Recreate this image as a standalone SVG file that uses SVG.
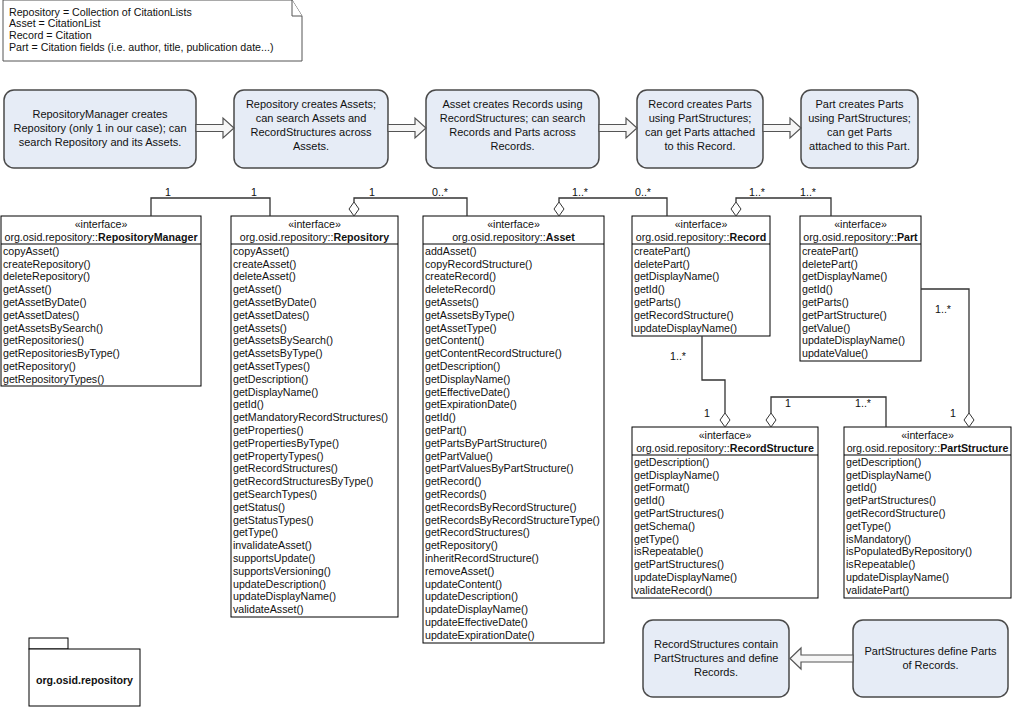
<svg xmlns="http://www.w3.org/2000/svg" width="1014" height="707" viewBox="0 0 1014 707">
<style>
text{font-family:"Liberation Sans",Arial,sans-serif;fill:#111}
.pbox{fill:#E6ECF6;stroke:#4a4a4a;stroke-width:1.5}
.pt{font-size:11px;text-anchor:middle}
.cbox{fill:#fff;stroke:#000;stroke-width:1}
.sep{stroke:#000;stroke-width:1}
.hd{font-size:10.67px;text-anchor:middle}
.ct{font-size:10.67px}
.lbl{font-size:10.67px;text-anchor:middle}
.conn{fill:none;stroke:#333;stroke-width:1.3}
.dia{fill:#fff;stroke:#333;stroke-width:1}
.barrow{fill:#f6f6f6;stroke:#555;stroke-width:1.2}
.note{fill:#fff;stroke:#555;stroke-width:1}
</style>
<rect width="1014" height="707" fill="#fff"/>

<g id="legend-note">
<path class="note" d="M3,0 H292 L302,16 V61 H3 Z"/>
<path class="note" fill="none" d="M292,0 V16 H302"/>
<text class="ct"><tspan x="9" y="15.5">Repository = Collection of CitationLists</tspan><tspan x="9" y="27.2">Asset = CitationList</tspan><tspan x="9" y="38.9">Record = Citation</tspan><tspan x="9" y="50.6">Part = Citation fields (i.e. author, title, publication date...)</tspan></text>
</g>

<g id="step-repositorymanager">
<rect class="pbox" x="4" y="90" width="192" height="78" rx="10"/>
<text class="pt"><tspan x="100" y="118">RepositoryManager creates</tspan><tspan x="100" y="132">Repository (only 1 in our case); can</tspan><tspan x="100" y="146">search Repository and its Assets.</tspan></text>
</g>
<g id="step-repository">
<rect class="pbox" x="234" y="90" width="154" height="78" rx="10"/>
<text class="pt"><tspan x="311" y="108">Repository creates Assets;</tspan><tspan x="311" y="122">can search Assets and</tspan><tspan x="311" y="136">RecordStructures across</tspan><tspan x="311" y="150">Assets.</tspan></text>
</g>
<g id="step-asset">
<rect class="pbox" x="426" y="90" width="173" height="78" rx="10"/>
<text class="pt"><tspan x="512.5" y="108">Asset creates Records using</tspan><tspan x="512.5" y="122">RecordStructures; can search</tspan><tspan x="512.5" y="136">Records and Parts across</tspan><tspan x="512.5" y="150">Records.</tspan></text>
</g>
<g id="step-record">
<rect class="pbox" x="637" y="90" width="126" height="78" rx="10"/>
<text class="pt"><tspan x="700" y="108">Record creates Parts</tspan><tspan x="700" y="122">using PartStructures;</tspan><tspan x="700" y="136">can get Parts attached</tspan><tspan x="700" y="150">to this Record.</tspan></text>
</g>
<g id="step-part">
<rect class="pbox" x="801" y="90" width="117" height="78" rx="10"/>
<text class="pt"><tspan x="859.5" y="108">Part creates Parts</tspan><tspan x="859.5" y="122">using PartStructures;</tspan><tspan x="859.5" y="136">can get Parts</tspan><tspan x="859.5" y="150">attached to this Part.</tspan></text>
</g>

<g id="class-repositorymanager">
<rect class="cbox" x="1" y="216" width="200" height="170"/>
<line class="sep" x1="1" y1="244" x2="201" y2="244"/>
<text class="hd" x="101" y="228.3">«interface»</text>
<text class="hd" x="101" y="241.3">org.osid.repository::<tspan font-weight="bold">RepositoryManager</tspan></text>
<text class="ct"><tspan x="3" y="254.8">copyAsset()</tspan><tspan x="3" dy="12.8">createRepository()</tspan><tspan x="3" dy="12.8">deleteRepository()</tspan><tspan x="3" dy="12.8">getAsset()</tspan><tspan x="3" dy="12.8">getAssetByDate()</tspan><tspan x="3" dy="12.8">getAssetDates()</tspan><tspan x="3" dy="12.8">getAssetsBySearch()</tspan><tspan x="3" dy="12.8">getRepositories()</tspan><tspan x="3" dy="12.8">getRepositoriesByType()</tspan><tspan x="3" dy="12.8">getRepository()</tspan><tspan x="3" dy="12.8">getRepositoryTypes()</tspan></text>
</g>

<g id="class-repository">
<rect class="cbox" x="231" y="216" width="167" height="401"/>
<line class="sep" x1="231" y1="244" x2="398" y2="244"/>
<text class="hd" x="314.5" y="228.3">«interface»</text>
<text class="hd" x="314.5" y="241.3">org.osid.repository::<tspan font-weight="bold">Repository</tspan></text>
<text class="ct"><tspan x="233" y="254.8">copyAsset()</tspan><tspan x="233" dy="12.8">createAsset()</tspan><tspan x="233" dy="12.8">deleteAsset()</tspan><tspan x="233" dy="12.8">getAsset()</tspan><tspan x="233" dy="12.8">getAssetByDate()</tspan><tspan x="233" dy="12.8">getAssetDates()</tspan><tspan x="233" dy="12.8">getAssets()</tspan><tspan x="233" dy="12.8">getAssetsBySearch()</tspan><tspan x="233" dy="12.8">getAssetsByType()</tspan><tspan x="233" dy="12.8">getAssetTypes()</tspan><tspan x="233" dy="12.8">getDescription()</tspan><tspan x="233" dy="12.8">getDisplayName()</tspan><tspan x="233" dy="12.8">getId()</tspan><tspan x="233" dy="12.8">getMandatoryRecordStructures()</tspan><tspan x="233" dy="12.8">getProperties()</tspan><tspan x="233" dy="12.8">getPropertiesByType()</tspan><tspan x="233" dy="12.8">getPropertyTypes()</tspan><tspan x="233" dy="12.8">getRecordStructures()</tspan><tspan x="233" dy="12.8">getRecordStructuresByType()</tspan><tspan x="233" dy="12.8">getSearchTypes()</tspan><tspan x="233" dy="12.8">getStatus()</tspan><tspan x="233" dy="12.8">getStatusTypes()</tspan><tspan x="233" dy="12.8">getType()</tspan><tspan x="233" dy="12.8">invalidateAsset()</tspan><tspan x="233" dy="12.8">supportsUpdate()</tspan><tspan x="233" dy="12.8">supportsVersioning()</tspan><tspan x="233" dy="12.8">updateDescription()</tspan><tspan x="233" dy="12.8">updateDisplayName()</tspan><tspan x="233" dy="12.8">validateAsset()</tspan></text>
</g>

<g id="class-asset">
<rect class="cbox" x="423" y="216" width="181" height="427"/>
<line class="sep" x1="423" y1="244" x2="604" y2="244"/>
<text class="hd" x="513.5" y="228.3">«interface»</text>
<text class="hd" x="513.5" y="241.3">org.osid.repository::<tspan font-weight="bold">Asset</tspan></text>
<text class="ct"><tspan x="425" y="254.8">addAsset()</tspan><tspan x="425" dy="12.8">copyRecordStructure()</tspan><tspan x="425" dy="12.8">createRecord()</tspan><tspan x="425" dy="12.8">deleteRecord()</tspan><tspan x="425" dy="12.8">getAssets()</tspan><tspan x="425" dy="12.8">getAssetsByType()</tspan><tspan x="425" dy="12.8">getAssetType()</tspan><tspan x="425" dy="12.8">getContent()</tspan><tspan x="425" dy="12.8">getContentRecordStructure()</tspan><tspan x="425" dy="12.8">getDescription()</tspan><tspan x="425" dy="12.8">getDisplayName()</tspan><tspan x="425" dy="12.8">getEffectiveDate()</tspan><tspan x="425" dy="12.8">getExpirationDate()</tspan><tspan x="425" dy="12.8">getId()</tspan><tspan x="425" dy="12.8">getPart()</tspan><tspan x="425" dy="12.8">getPartsByPartStructure()</tspan><tspan x="425" dy="12.8">getPartValue()</tspan><tspan x="425" dy="12.8">getPartValuesByPartStructure()</tspan><tspan x="425" dy="12.8">getRecord()</tspan><tspan x="425" dy="12.8">getRecords()</tspan><tspan x="425" dy="12.8">getRecordsByRecordStructure()</tspan><tspan x="425" dy="12.8">getRecordsByRecordStructureType()</tspan><tspan x="425" dy="12.8">getRecordStructures()</tspan><tspan x="425" dy="12.8">getRepository()</tspan><tspan x="425" dy="12.8">inheritRecordStructure()</tspan><tspan x="425" dy="12.8">removeAsset()</tspan><tspan x="425" dy="12.8">updateContent()</tspan><tspan x="425" dy="12.8">updateDescription()</tspan><tspan x="425" dy="12.8">updateDisplayName()</tspan><tspan x="425" dy="12.8">updateEffectiveDate()</tspan><tspan x="425" dy="12.8">updateExpirationDate()</tspan></text>
</g>

<g id="class-record">
<rect class="cbox" x="632" y="216" width="138" height="120"/>
<line class="sep" x1="632" y1="244" x2="770" y2="244"/>
<text class="hd" x="701" y="228.3">«interface»</text>
<text class="hd" x="701" y="241.3">org.osid.repository::<tspan font-weight="bold">Record</tspan></text>
<text class="ct"><tspan x="634" y="254.8">createPart()</tspan><tspan x="634" dy="12.8">deletePart()</tspan><tspan x="634" dy="12.8">getDisplayName()</tspan><tspan x="634" dy="12.8">getId()</tspan><tspan x="634" dy="12.8">getParts()</tspan><tspan x="634" dy="12.8">getRecordStructure()</tspan><tspan x="634" dy="12.8">updateDisplayName()</tspan></text>
</g>

<g id="class-part">
<rect class="cbox" x="800" y="216" width="121" height="145"/>
<line class="sep" x1="800" y1="244" x2="921" y2="244"/>
<text class="hd" x="860.5" y="228.3">«interface»</text>
<text class="hd" x="860.5" y="241.3">org.osid.repository::<tspan font-weight="bold">Part</tspan></text>
<text class="ct"><tspan x="802" y="254.8">createPart()</tspan><tspan x="802" dy="12.8">deletePart()</tspan><tspan x="802" dy="12.8">getDisplayName()</tspan><tspan x="802" dy="12.8">getId()</tspan><tspan x="802" dy="12.8">getParts()</tspan><tspan x="802" dy="12.8">getPartStructure()</tspan><tspan x="802" dy="12.8">getValue()</tspan><tspan x="802" dy="12.8">updateDisplayName()</tspan><tspan x="802" dy="12.8">updateValue()</tspan></text>
</g>

<g id="class-recordstructure">
<rect class="cbox" x="632" y="427" width="186" height="171"/>
<line class="sep" x1="632" y1="455" x2="818" y2="455"/>
<text class="hd" x="725" y="439.3">«interface»</text>
<text class="hd" x="725" y="452.3">org.osid.repository::<tspan font-weight="bold">RecordStructure</tspan></text>
<text class="ct"><tspan x="634" y="465.8">getDescription()</tspan><tspan x="634" dy="12.8">getDisplayName()</tspan><tspan x="634" dy="12.8">getFormat()</tspan><tspan x="634" dy="12.8">getId()</tspan><tspan x="634" dy="12.8">getPartStructures()</tspan><tspan x="634" dy="12.8">getSchema()</tspan><tspan x="634" dy="12.8">getType()</tspan><tspan x="634" dy="12.8">isRepeatable()</tspan><tspan x="634" dy="12.8">getPartStructures()</tspan><tspan x="634" dy="12.8">updateDisplayName()</tspan><tspan x="634" dy="12.8">validateRecord()</tspan></text>
</g>

<g id="class-partstructure">
<rect class="cbox" x="844" y="427" width="167" height="171"/>
<line class="sep" x1="844" y1="455" x2="1011" y2="455"/>
<text class="hd" x="927.5" y="439.3">«interface»</text>
<text class="hd" x="927.5" y="452.3">org.osid.repository::<tspan font-weight="bold">PartStructure</tspan></text>
<text class="ct"><tspan x="846" y="465.8">getDescription()</tspan><tspan x="846" dy="12.8">getDisplayName()</tspan><tspan x="846" dy="12.8">getId()</tspan><tspan x="846" dy="12.8">getPartStructures()</tspan><tspan x="846" dy="12.8">getRecordStructure()</tspan><tspan x="846" dy="12.8">getType()</tspan><tspan x="846" dy="12.8">isMandatory()</tspan><tspan x="846" dy="12.8">isPopulatedByRepository()</tspan><tspan x="846" dy="12.8">isRepeatable()</tspan><tspan x="846" dy="12.8">updateDisplayName()</tspan><tspan x="846" dy="12.8">validatePart()</tspan></text>
</g>

<g id="package">
<rect class="cbox" x="29" y="638" width="39" height="11"/>
<rect class="cbox" x="29" y="649" width="111" height="57"/>
<text class="hd" x="84.5" y="684" font-weight="bold">org.osid.repository</text>
</g>

<g id="note-recordstructures">
<rect class="pbox" x="643" y="620" width="146" height="77" rx="10"/>
<text class="pt"><tspan x="716" y="648">RecordStructures contain</tspan><tspan x="716" y="662">PartStructures and define</tspan><tspan x="716" y="676">Records.</tspan></text>
</g>
<g id="note-partstructures">
<rect class="pbox" x="853" y="620" width="155" height="77" rx="10"/>
<text class="pt"><tspan x="930.5" y="655">PartStructures define Parts</tspan><tspan x="930.5" y="669">of Records.</tspan></text>
</g>

<g id="connectors">
<path class="barrow" d="M196,124.5 H223 V118 L234,128 L223,138 V131.5 H196 Z"/>
<path class="barrow" d="M388,124.5 H415 V118 L426,128 L415,138 V131.5 H388 Z"/>
<path class="barrow" d="M599,124.5 H626 V118 L637,128 L626,138 V131.5 H599 Z"/>
<path class="barrow" d="M763,124.5 H790 V118 L801,128 L790,138 V131.5 H763 Z"/>
<path class="barrow" d="M853,655 H801 V648 L790,658.5 L801,669 V662 H853 Z"/>

<path class="conn" d="M151,216 V198 H270 V216"/>
<path class="conn" d="M354,202 V198 H467 V216"/>
<polygon class="dia" points="354,202 359,209 354,216 349,209"/>
<path class="conn" d="M559,202 V198 H667 V216"/>
<polygon class="dia" points="559,202 564,209 559,216 554,209"/>
<path class="conn" d="M736,202 V198 H831 V216"/>
<polygon class="dia" points="736,202 741,209 736,216 731,209"/>
<path class="conn" d="M702,336 V380 H725 V413"/>
<polygon class="dia" points="725,413 730,420 725,427 720,420"/>
<path class="conn" d="M771,413 V397 H886 V427"/>
<polygon class="dia" points="771,413 776,420 771,427 766,420"/>
<path class="conn" d="M921,289 H969 V413"/>
<polygon class="dia" points="969,413 974,420 969,427 964,420"/>

<text class="lbl" x="168" y="196">1</text>
<text class="lbl" x="254" y="196">1</text>
<text class="lbl" x="372" y="196">1</text>
<text class="lbl" x="440" y="196">0..*</text>
<text class="lbl" x="580" y="196">1..*</text>
<text class="lbl" x="643" y="196">0..*</text>
<text class="lbl" x="757" y="196">1..*</text>
<text class="lbl" x="808" y="196">1..*</text>
<text class="lbl" x="678" y="360">1..*</text>
<text class="lbl" x="707" y="417">1</text>
<text class="lbl" x="788" y="407">1</text>
<text class="lbl" x="863" y="407">1..*</text>
<text class="lbl" x="943" y="313">1..*</text>
<text class="lbl" x="953" y="417">1</text>
</g>
</svg>
